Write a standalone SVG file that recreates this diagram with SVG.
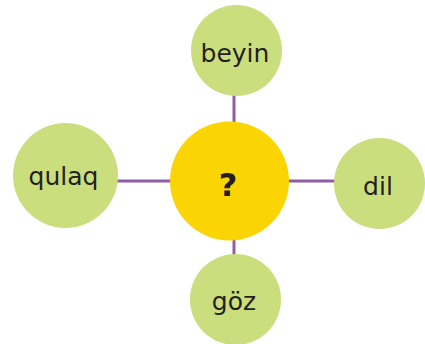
<svg xmlns="http://www.w3.org/2000/svg" width="425" height="344" viewBox="0 0 425 344">
<style>
.leaf{fill:#cbde7e}
.hub{fill:#fbd404}
.lbl{font-family:"Comic Sans MS","DejaVu Sans",sans-serif;font-size:25px;fill:#231f20;text-anchor:middle}
.q{font-family:"DejaVu Sans",sans-serif;font-size:32px;font-weight:bold;fill:#231f20;text-anchor:middle}
.con{stroke:#8e5ca8;stroke-width:3;fill:none}
</style>
<rect width="425" height="344" fill="#fff"/>
<g id="connectors">
<line class="con" x1="234" y1="95" x2="234" y2="124"/>
<line class="con" x1="116" y1="181" x2="172" y2="181"/>
<line class="con" x1="287" y1="181" x2="336" y2="181"/>
<line class="con" x1="234" y1="238" x2="234" y2="256"/>
</g>
<g id="center">
<circle class="hub" cx="229.5" cy="181" r="59.5"/>
<text class="q" x="228" y="196">?</text>
</g>
<g id="beyin">
<circle class="leaf" cx="236.5" cy="50.5" r="45.5"/>
<text class="lbl" x="235" y="62">beyin</text>
</g>
<g id="qulaq">
<circle class="leaf" cx="65.5" cy="175.5" r="52.5"/>
<text class="lbl" x="63.5" y="185">qulaq</text>
</g>
<g id="dil">
<circle class="leaf" cx="379.5" cy="183.5" r="45.5"/>
<text class="lbl" x="378" y="195">dil</text>
</g>
<g id="goz">
<circle class="leaf" cx="235.5" cy="299.5" r="45.5"/>
<text class="lbl" x="234" y="310">göz</text>
</g>
</svg>
